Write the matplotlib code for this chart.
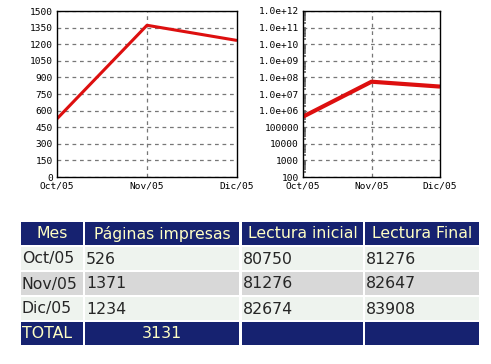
import math
import matplotlib
matplotlib.use("Agg")
import matplotlib.pyplot as plt
from matplotlib.ticker import FixedLocator, FuncFormatter, LogLocator, NullFormatter
from matplotlib.patches import Rectangle

months = ["Oct/05", "Nov/05", "Dic/05"]
paginas = [526, 1371, 1234]
lectura_inicial = [80750, 81276, 82674]
lectura_final = [81276, 82647, 83908]
total_paginas = 3131
log_series = [4.3e5, 5.5e7, 2.8e7]
headers = ["Mes", "Páginas impresas", "Lectura inicial", "Lectura Final"]
lin_ticks = list(range(0, 1501, 150))
log_ticks = [1e2, 1e3, 1e4, 1e5, 1e6, 1e7, 1e8, 1e9, 1e10, 1e11, 1e12]

W, H = 491, 364
fig = plt.figure(figsize=(W / 100, H / 100), dpi=100)
fig.patch.set_facecolor("white")

mono = "DejaVu Sans Mono"
red = "#dd0f0f"
gridc = "#777777"


def px_axes(x0, x1, y0, y1):
    return fig.add_axes([x0 / W, 1 - y1 / H, (x1 - x0) / W, (y1 - y0) / H])


# Left linear chart
ax1 = px_axes(57, 237, 11, 177)
x = list(range(len(months)))
ax1.plot(x, paginas, color=red, lw=2.2, solid_capstyle="butt")
ax1.set_xlim(0, len(months) - 1)
ax1.set_ylim(0, 1500)
ax1.set_yticks(lin_ticks)
ax1.set_xticks(x)
ax1.set_xticklabels(months)
ax1.yaxis.grid(True, ls=(0, (3, 3)), color=gridc, lw=0.9)
ax1.axvline(1, ls=(0, (3, 3)), color=gridc, lw=0.9, zorder=0)
ax1.tick_params(axis="both", length=0, labelsize=6.8)
ax1.tick_params(axis="y", pad=3)
ax1.tick_params(axis="x", pad=3)
for lab in ax1.get_xticklabels() + ax1.get_yticklabels():
    lab.set_fontfamily(mono)
for s in ax1.spines.values():
    s.set_linewidth(1.0)

# Right log chart
ax2 = px_axes(303, 440, 11, 177)
ax2.plot(x, log_series, color=red, lw=3, solid_capstyle="butt")
ax2.set_yscale("log")
ax2.set_xlim(0, len(months) - 1)
ax2.set_ylim(1e2, 1e12)
ax2.yaxis.set_major_locator(FixedLocator(log_ticks))


def logfmt(v, pos):
    if v < 1e6:
        return "%d" % round(v)
    e = int(round(math.log10(v)))
    return "1.0e+%02d" % e


ax2.yaxis.set_major_formatter(FuncFormatter(logfmt))
ax2.yaxis.set_minor_locator(LogLocator(base=10, subs=range(2, 10), numticks=50))
ax2.yaxis.set_minor_formatter(NullFormatter())
ax2.set_xticks(x)
ax2.set_xticklabels(months)
ax2.yaxis.grid(True, which="major", ls=(0, (3, 3)), color=gridc, lw=0.9)
ax2.axvline(1, ls=(0, (3, 3)), color=gridc, lw=0.9, zorder=0)
ax2.tick_params(axis="both", which="major", length=0, labelsize=6.8)
ax2.tick_params(axis="y", which="major", pad=3)
ax2.tick_params(axis="x", which="major", pad=3)
ax2.tick_params(axis="y", which="minor", direction="in", length=2.5, width=1.2, color="#666666")
for lab in ax2.get_xticklabels() + ax2.get_yticklabels():
    lab.set_fontfamily(mono)
for s in ax2.spines.values():
    s.set_linewidth(1.0)

# Table
tax = fig.add_axes([0, 0, 1, 1])
tax.set_xlim(0, W)
tax.set_ylim(H, 0)
tax.axis("off")

cols = [(21, 83), (85, 239.5), (242, 363), (365, 479)]
rows = [(222, 245), (247, 270), (272, 295), (297, 320), (322, 345)]
navy = "#162270"
header_txt = "#ffffc4"
row_bg = ["#eef3ee", "#d8d8d8", "#eef3ee"]
fs = 11.3
tfont = "DejaVu Sans"

for (c0, c1), h in zip(cols, headers):
    r0, r1 = rows[0]
    tax.add_patch(Rectangle((c0, r0), c1 - c0, r1 - r0, color=navy, lw=0))
    tax.text((c0 + c1) / 2, (r0 + r1) / 2, h, ha="center", va="center",
             color=header_txt, fontsize=fs, family=tfont)

for i, m in enumerate(months):
    r0, r1 = rows[i + 1]
    vals = [m, str(paginas[i]), str(lectura_inicial[i]), str(lectura_final[i])]
    for (c0, c1), v in zip(cols, vals):
        tax.add_patch(Rectangle((c0, r0), c1 - c0, r1 - r0, color=row_bg[i], lw=0))
        tax.text(c0 + 1, (r0 + r1) / 2 + 0.5, v, ha="left", va="center",
                 color="#262626", fontsize=fs, family=tfont)

r0, r1 = rows[4]
tot_vals = ["TOTAL", str(total_paginas), "", ""]
for j, ((c0, c1), v) in enumerate(zip(cols, tot_vals)):
    tax.add_patch(Rectangle((c0, r0), c1 - c0, r1 - r0, color=navy, lw=0))
    if j == 0:
        tax.text(c0 + 1, (r0 + r1) / 2 + 0.5, v, ha="left", va="center",
                 color=header_txt, fontsize=fs, family=tfont)
    elif v:
        tax.text((c0 + c1) / 2, (r0 + r1) / 2 + 0.5, v, ha="center", va="center",
                 color=header_txt, fontsize=fs, family=tfont)

fig.savefig("out.png", dpi=100)
